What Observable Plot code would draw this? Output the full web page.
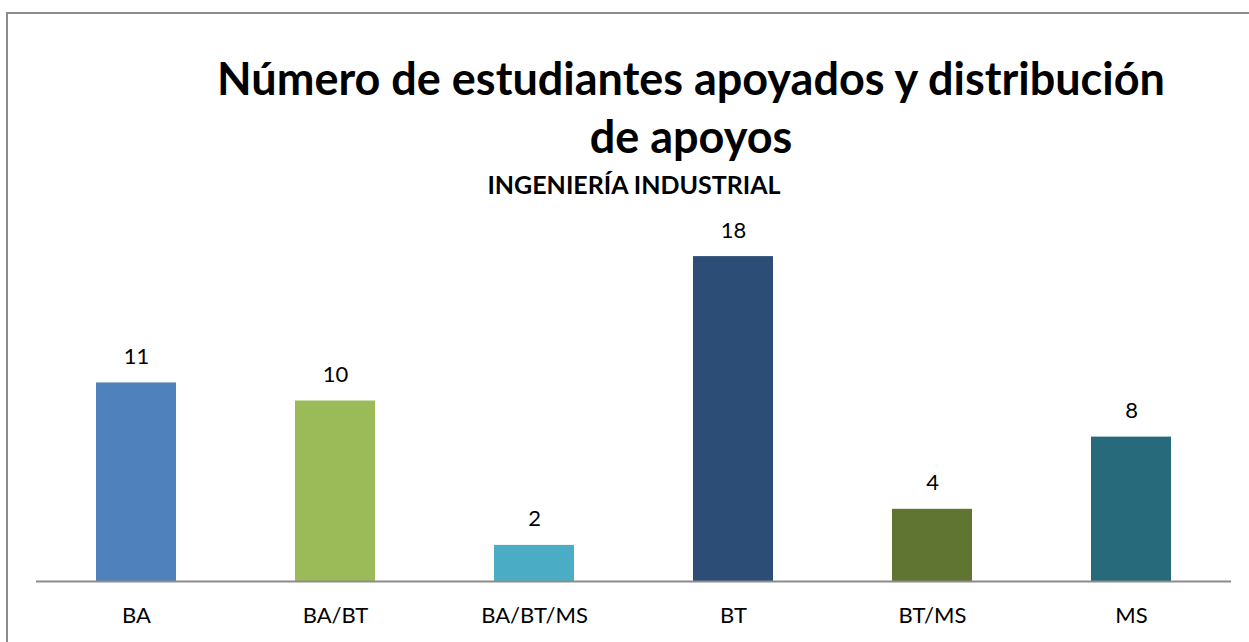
<!DOCTYPE html>
<html>
<head>
<meta charset="utf-8">
<script src="https://cdn.jsdelivr.net/npm/d3@7"></script>
<script src="https://cdn.jsdelivr.net/npm/@observablehq/plot@0.6"></script>
<style>
  html, body { margin: 0; padding: 0; background: #fff; }
  #wrap { position: relative; width: 1249px; height: 642px; overflow: hidden; font-family: Lato, "Open Sans", sans-serif; }
  #frame { position: absolute; left: 6px; top: 12px; width: 1260px; height: 660px; border: 2px solid #8c8c8c; box-sizing: border-box; }
  #title { position: absolute; left: 0; top: 49px; width: 1382px; text-align: center; font-weight: bold; font-size: 45px; line-height: 58px; color: #000; }
  #subtitle { position: absolute; left: 0; top: 169px; width: 1268px; text-align: center; font-weight: bold; font-size: 25px; color: #000; }
  #chart { position: absolute; left: 0; top: 200px; }
</style>
</head>
<body>
<div id="wrap">
  <div id="frame"></div>
  <div id="title">Número de estudiantes apoyados y distribución<br>de apoyos</div>
  <div id="subtitle">INGENIERÍA INDUSTRIAL</div>
  <div id="chart"></div>
</div>
<script>
const categories = ["BA", "BA/BT", "BA/BT/MS", "BT", "BT/MS", "MS"];
const values = [11, 10, 2, 18, 4, 8];
const colors = ["#4F81BD", "#9BBB59", "#4BACC6", "#2C4D75", "#617532", "#276A7C"];

const data = categories.map((c, i) => ({category: c, value: values[i], color: colors[i]}));

const chart = Plot.plot({
  width: 1249,
  height: 442,
  marginLeft: 36,
  marginRight: 18,
  marginTop: 20,
  marginBottom: 61,
  style: {fontFamily: "Lato, 'Open Sans', sans-serif", fontSize: "22px", color: "#000", background: "transparent"},
  x: {domain: categories, paddingInner: 0.6, paddingOuter: 0.3, label: null, tickSize: 0, tickPadding: 26},
  y: {domain: [0, 20], axis: null},
  marks: [
    Plot.barY(data, {x: "category", y: "value", fill: "color"}),
    Plot.text(data, {x: "category", y: "value", text: d => String(d.value), dy: -26, fontSize: 22, fill: "#000"}),
    Plot.ruleY([0], {stroke: "#8c8c8c", strokeWidth: 2})
  ]
});
document.getElementById("chart").appendChild(chart);
</script>
</body>
</html>
